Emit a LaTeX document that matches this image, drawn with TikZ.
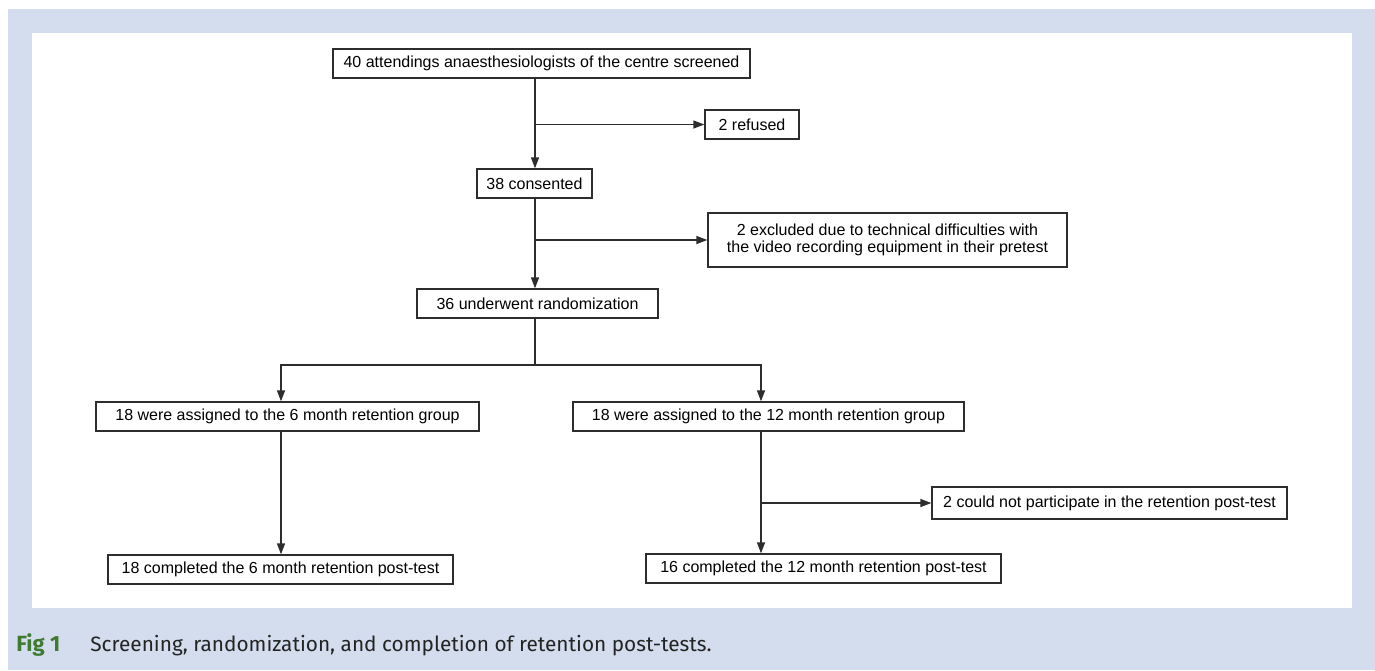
\documentclass[tikz,border=0pt]{standalone}
\usepackage{fontspec}
\setmainfont{Liberation Sans}
\newfontfamily\capfont{Fira Sans}
\usetikzlibrary{arrows.meta}
\definecolor{panelblue}{RGB}{212,221,238}
\definecolor{figgreen}{RGB}{62,122,48}
\definecolor{boxline}{RGB}{45,45,45}
\definecolor{captext}{RGB}{35,35,35}

\begin{document}
\begin{tikzpicture}[x=0.5pt,y=-0.5pt,
    flowbox/.style={draw=boxline, line width=0.65pt, inner sep=0pt, align=center,
      font=\fontsize{8}{8.8}\selectfont, minimum height=14.5pt},
    flowline/.style={draw=boxline, line width=0.65pt},
    flowarrow/.style={flowline, -{Triangle[length=5.5pt,width=4pt]}}]
  \useasboundingbox (0,0) rectangle (1375,670);
  % frame
  \fill[panelblue] (8,9) rectangle (1375,670);
  \fill[white] (32,33) rectangle (1352,608);

  % trunk and branch points
  \coordinate (spine) at (535,0);
  \coordinate (split) at (535,365);
  \coordinate (lbr) at (281,365);
  \coordinate (rbr) at (761,365);

  \node[flowbox, minimum width=208.5pt] (screened) at (541.5,63.5)
    {40 attendings anaesthesiologists of the centre screened};
  \node[flowbox, minimum width=47pt] (refused) at (752,124.5) {2 refused};
  \node[flowbox, minimum width=57.5pt] (consented) at (534.5,183.5) {38 consented};
  \node[flowbox, minimum width=179.5pt, minimum height=27pt] (excluded) at (887.5,240)
    {2 excluded due to technical difficulties with\\the video recording equipment in their pretest};
  \node[flowbox, minimum width=120.5pt] (randomized) at (537.5,303.5) {36 underwent randomization};
  \node[flowbox, minimum width=191.5pt] (sixmo) at (287.5,416.5)
    {18 were assigned to the 6 month retention group};
  \node[flowbox, minimum width=195.5pt] (twelvemo) at (768.5,416.5)
    {18 were assigned to the 12 month retention group};
  \node[flowbox, minimum width=177.5pt, minimum height=16pt] (notpart) at (1109.5,503)
    {2 could not participate in the retention post-test};
  \node[flowbox, minimum width=172.5pt] (sixdone) at (280.5,569.5)
    {18 completed the 6 month retention post-test};
  \node[flowbox, minimum width=177.5pt] (twelvedone) at (823.5,568.5)
    {16 completed the 12 month retention post-test};

  % connectors
  \draw[flowarrow] (screened.south -| spine) -- (consented.north -| spine);
  \draw[flowarrow] (spine |- refused.west) -- (refused.west);
  \draw[flowarrow] (consented.south -| spine) -- (randomized.north -| spine);
  \draw[flowarrow] (spine |- excluded.west) -- (excluded.west);
  \draw[flowline] (randomized.south -| split) -- (split);
  \draw[flowarrow] (split) -- (lbr) -- (lbr |- sixmo.north);
  \draw[flowarrow] (split) -- (rbr) -- (rbr |- twelvemo.north);
  \draw[flowarrow] (sixmo.south -| lbr) -- (sixdone.north -| lbr);
  \draw[flowarrow] (twelvemo.south -| rbr) -- (twelvedone.north -| rbr);
  \draw[flowarrow] (rbr |- notpart.west) -- (notpart.west);

  % caption
  \node[anchor=base west, inner sep=0pt, text=figgreen,
    font={\capfont\bfseries\fontsize{11}{13}\selectfont}] (figlabel) at (16,651) {Fig 1};
  \node[anchor=base west, inner sep=0pt, text=captext,
    font={\capfont\fontsize{10.4}{12}\selectfont}] (figtext) at (90,651)
    {Screening, randomization, and completion of retention post-tests.};
\end{tikzpicture}
\end{document}
